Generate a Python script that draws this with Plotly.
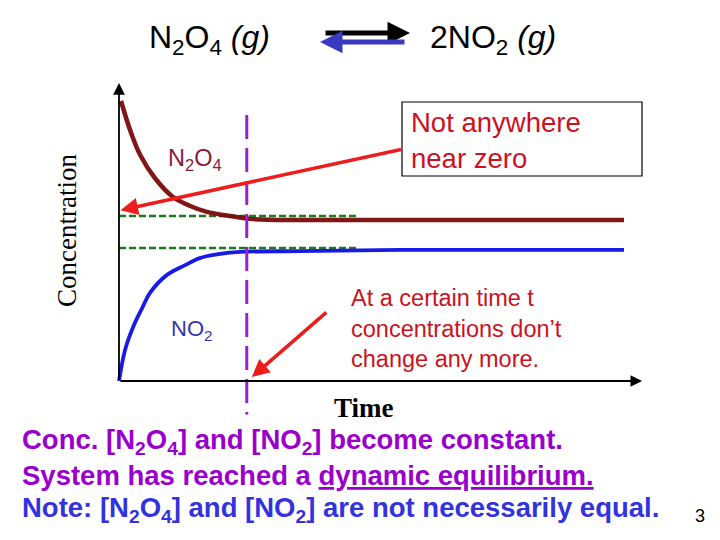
import plotly.graph_objects as go

# ---------------- data ----------------
# time (arbitrary units) and concentrations (arbitrary units)
t_n2o4 = [0.04, 0.22, 0.42, 0.71, 1.07, 1.41, 1.74, 2.20, 2.59, 3.58, 5.56, 7.54, 10.0]
c_n2o4 = [1.000, 0.896, 0.807, 0.725, 0.657, 0.625, 0.604, 0.589, 0.579, 0.575, 0.575, 0.575, 0.575]
t_no2 = [0.0, 0.12, 0.28, 0.46, 0.61, 0.95, 1.31, 1.60, 2.00, 2.40, 3.58, 5.56, 10.0]
c_no2 = [0.000, 0.111, 0.193, 0.261, 0.314, 0.379, 0.414, 0.439, 0.454, 0.461, 0.464, 0.468, 0.468]
eq_guide_t = [0.0, 4.7]
eq_guide_n2o4 = [0.589, 0.589]
eq_guide_no2 = [0.475, 0.475]
t_equilibrium = 2.53
vline_c = [0.95, -0.12]
axis_top = 1.064
axis_right = 10.36

W, H = 720, 540
OFF = 8  # page body margin


def P(px, py):
    return (px - OFF) / W, 1 - (py - OFF) / H


fig = go.Figure()

fig.add_trace(go.Scatter(x=eq_guide_t, y=eq_guide_n2o4, mode="lines",
                         line=dict(color="#1f7a1f", width=2.5, dash="7px,3px"), hoverinfo="skip"))
fig.add_trace(go.Scatter(x=eq_guide_t, y=eq_guide_no2, mode="lines",
                         line=dict(color="#1f7a1f", width=2.5, dash="7px,3px"), hoverinfo="skip"))
fig.add_trace(go.Scatter(x=t_n2o4, y=c_n2o4, mode="lines", line_shape="spline",
                         line=dict(color="#7a0a0a", width=4.5), opacity=0.95))
fig.add_trace(go.Scatter(x=t_no2, y=c_no2, mode="lines", line_shape="spline",
                         line=dict(color="#1a1ae6", width=3.8)))
fig.add_trace(go.Scatter(x=[t_equilibrium, t_equilibrium], y=vline_c, mode="lines",
                         line=dict(color="#9922cc", width=3, dash="24px,9px")))

ann = []
# axes with arrows
ann.append(dict(x=0, y=axis_top, ax=0, ay=0, xref="x", yref="y", axref="x", ayref="y",
                text="", showarrow=True, arrowhead=2, arrowsize=1.3, arrowwidth=1.8,
                arrowcolor="black"))
ann.append(dict(x=axis_right, y=0, ax=0, ay=0, xref="x", yref="y", axref="x", ayref="y",
                text="", showarrow=True, arrowhead=2, arrowsize=1.3, arrowwidth=1.8,
                arrowcolor="black"))
# red pointer arrows
ann.append(dict(x=0.03, y=0.61, xref="x", yref="y", ax=282, ay=-61, text="", showarrow=True,
                arrowhead=2, arrowsize=1, arrowwidth=3.5, arrowcolor="#ee1c1c"))
ann.append(dict(x=2.63, y=0.014, xref="x", yref="y", ax=76, ay=-66, text="", showarrow=True,
                arrowhead=2, arrowsize=1, arrowwidth=3.5, arrowcolor="#ee1c1c"))


def text(px, py, s, size, color, family="Liberation Sans", xanchor="center", angle=0, yanchor="middle"):
    x, y = P(px, py)
    ann.append(dict(x=x, y=y, xref="paper", yref="paper", text=s, showarrow=False,
                    xanchor=xanchor, yanchor=yanchor, textangle=angle, align="left",
                    font=dict(size=size, color=color, family=family)))


# equation
text(209, 40, "N<sub>2</sub>O<sub>4</sub> <i>(g)</i>", 32, "black")
text(493, 40, "2NO<sub>2</sub> <i>(g)</i>", 32, "black")
x0, y0 = P(410, 33)
ann.append(dict(x=x0, y=y0, xref="paper", yref="paper", ax=-86, ay=0, text="", showarrow=True,
                arrowhead=2, arrowsize=0.9, arrowwidth=5, arrowcolor="black"))
x0, y0 = P(320, 42)
ann.append(dict(x=x0, y=y0, xref="paper", yref="paper", ax=86, ay=0, text="", showarrow=True,
                arrowhead=2, arrowsize=0.9, arrowwidth=5, arrowcolor="#3a3ac0"))

# curve labels
text(195, 160, "N<sub>2</sub>O<sub>4</sub>", 23.5, "#8b1a3c")
text(192, 330, "NO<sub>2</sub>", 22, "#3535b0")

# axis titles
text(67, 231, "Concentration", 27, "black", family="Liberation Serif", angle=-90)
text(364, 408, "<b>Time</b>", 27, "black", family="Liberation Serif")

# box annotation
text(409, 140, "Not anywhere<br>near zero", 27.5, "#cc1122", xanchor="left")
# time annotation
text(349, 328, "At a certain time t<br>concentrations don’t<br>change any more.", 23.5, "#cc1122",
     xanchor="left")

# bottom statements
text(20, 441, "<b>Conc. [N<sub>2</sub>O<sub>4</sub>] and [NO<sub>2</sub>] become constant.</b>", 27.5,
     "#9900cc", xanchor="left")
text(20, 475, "<b>System has reached a <u>dynamic equilibrium.</u></b>", 27.5, "#9900cc", xanchor="left")
text(20, 509, "<b>Note: [N<sub>2</sub>O<sub>4</sub>] and [NO<sub>2</sub>] are not necessarily equal.</b>", 27.5,
     "#3333dd", xanchor="left")
text(700, 516, "3", 18, "black")

bx0, by0 = P(402, 102)
bx1, by1 = P(642, 176)
shapes = [dict(type="rect", xref="paper", yref="paper", x0=bx0, y0=by1, x1=bx1, y1=by0,
               line=dict(color="black", width=1.2), fillcolor="rgba(0,0,0,0)")]

fig.update_layout(
    width=W, height=H, margin=dict(l=0, r=0, t=0, b=0),
    paper_bgcolor="white", plot_bgcolor="white", showlegend=False,
    xaxis=dict(range=[-(119 - OFF) / 50.5, (W - 119 + OFF) / 50.5], visible=False, fixedrange=True),
    yaxis=dict(range=[(381 - OFF - H) / 280, (381 - OFF) / 280], visible=False, fixedrange=True),
    annotations=ann, shapes=shapes,
)

fig.write_html("out.html")
